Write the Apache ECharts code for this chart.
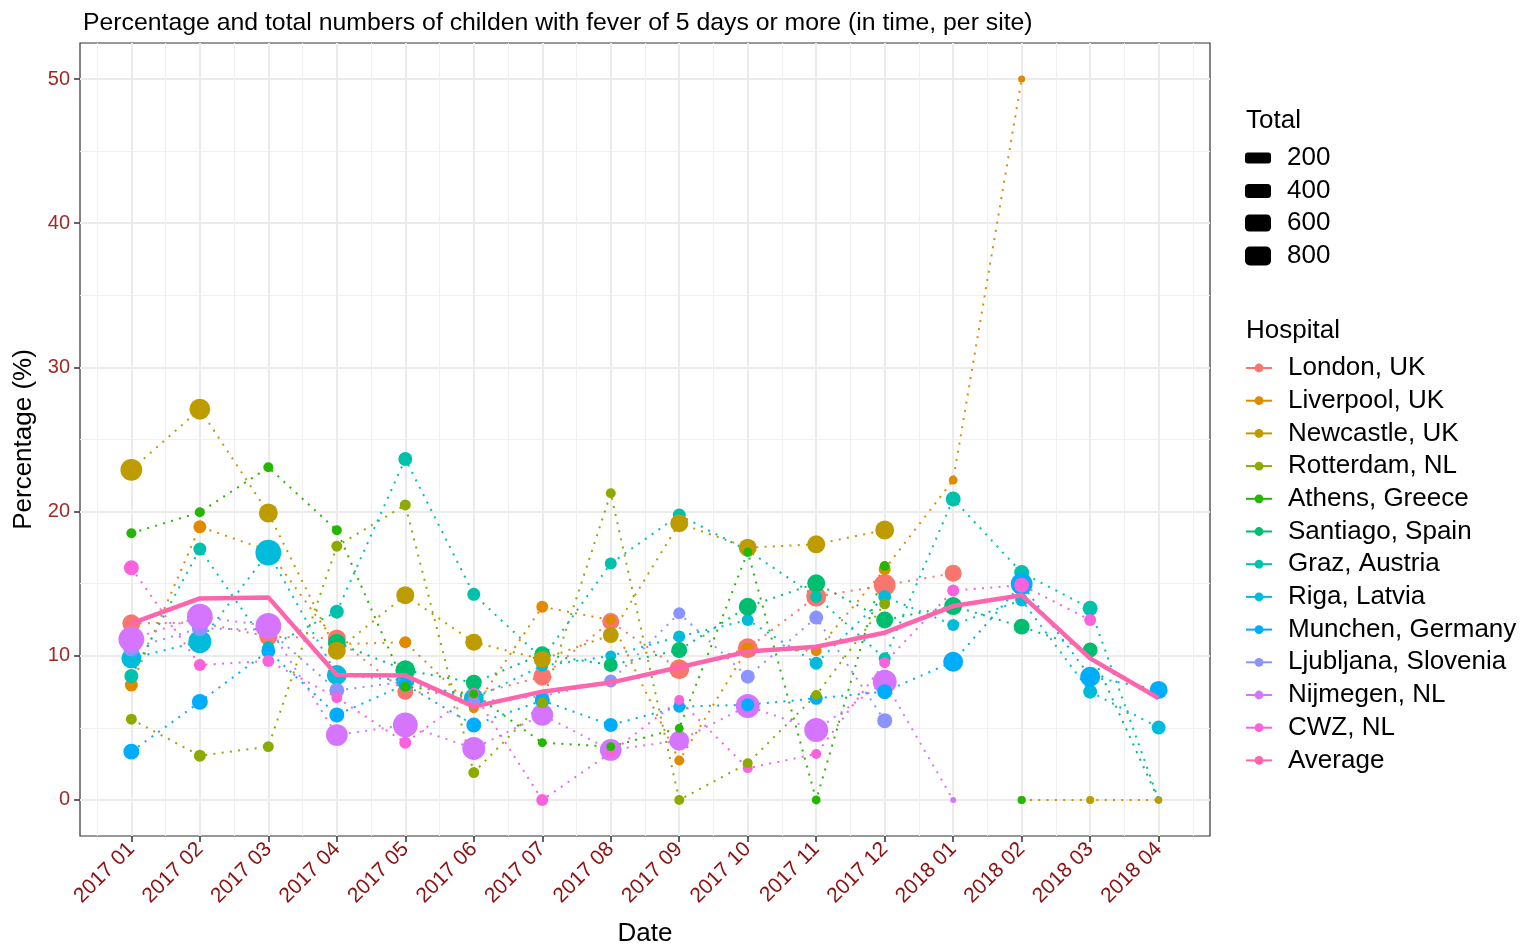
<!DOCTYPE html>
<html>
<head>
<meta charset="utf-8">
<script src="https://cdn.jsdelivr.net/npm/echarts@6/dist/echarts.min.js"></script>
<style>
html,body{margin:0;padding:0;background:#fff;}
#chart{width:1526px;height:948px;}
</style>
</head>
<body>
<div id="chart"></div>
<script>
const dates = ['2017 01','2017 02','2017 03','2017 04','2017 05','2017 06','2017 07','2017 08','2017 09','2017 10','2017 11','2017 12','2018 01','2018 02','2018 03','2018 04'];
const yTicks = [0, 10, 20, 30, 40, 50];
const sizeBreaks = ['200', '400', '600', '800'];

const hospitals = ['London, UK','Liverpool, UK','Newcastle, UK','Rotterdam, NL','Athens, Greece','Santiago, Spain','Graz, Austria','Riga, Latvia','Munchen, Germany','Ljubljana, Slovenia','Nijmegen, NL','CWZ, NL'];
const colors = ['#F8766D','#E18A00','#BE9C00','#8CAB00','#24B700','#00BE70','#00C1AB','#00BBDA','#00ACFC','#8B93FF','#D575FE','#F962DD'];
const avgColor = '#FF65AC';

// Percentages per hospital
const londonPct     = [12.25, 12.3, 11.33, 11.2, 7.5, 7.3, 8.55, 12.37, 9.06, 10.52, 14.1, 14.9, 15.72, null, null, null];
const liverpoolPct  = [7.97, 18.95, 17.3, 10.8, 10.94, 6.36, 13.4, 12.48, 2.73, 10.5, 10.35, 16.0, 22.19, 50, null, null];
const newcastlePct  = [22.9, 27.1, 19.9, 10.35, 14.2, 10.94, 9.75, 11.44, 19.19, 17.5, 17.73, 18.72, null, 0, 0, 0];
const rotterdamPct  = [5.6, 3.07, 3.7, 17.6, 20.46, 1.9, 6.75, 21.27, 0, 2.54, 7.28, 13.6, null, null, null, null];
const athensPct     = [18.5, 19.95, 23.07, 18.7, 7.86, 7.35, 3.97, 3.7, 4.97, 17.2, 0, 16.22, null, 0, null, null];
const santiagoPct   = [null, null, null, 10.9, 9.0, 8.14, 10.1, 9.36, 10.4, 13.4, 15.03, 12.48, 13.45, 12.02, 10.4, 0];
const grazPct       = [8.6, 17.4, 10.6, 13.06, 23.65, 14.26, 9.8, 16.4, 19.76, 17.3, 14.1, 9.82, 20.87, 15.77, 13.29, 0];
const rigaPct       = [9.82, 10.98, 17.15, 8.67, 8.3, 7.04, 9.3, 9.99, 11.33, 12.48, 9.48, 14.1, 12.14, 13.87, 7.51, 5.02];
const munchenPct    = [3.35, 6.8, 10.33, 5.9, 8.0, 5.2, 6.9, 5.2, 6.47, 6.6, 7.05, 7.51, 9.59, 14.98, 8.55, 7.63];
const ljubljanaPct  = [10.5, 11.9, 11.8, 7.6, 8.2, 6.8, 7.2, 8.25, 12.95, 8.55, 12.65, 5.5, null, null, null, null];
const nijmegenPct   = [11.14, 12.71, 12.07, 4.5, 5.2, 3.57, 5.9, 3.47, 4.11, 6.52, 4.85, 8.2, 0, null, null, null];
const cwzPct        = [16.1, 9.36, 9.64, 7.1, 3.97, 7.4, 0, 3.28, 6.93, 2.2, 3.19, 9.52, 14.52, 14.9, 12.48, null];
const averagePct    = [12.25, 13.98, 14.05, 8.67, 8.63, 6.47, 7.51, 8.14, 9.2, 10.29, 10.63, 11.6, 13.45, 14.2, 9.82, 7.05];

// Totals per hospital (point size)
const londonN     = [370, 370, 370, 370, 270, 230, 370, 320, 480, 480, 480, 600, 320, null, null, null];
const liverpoolN  = [155, 155, 124, 124, 124, 72, 124, 72, 72, 124, 95, 124, 50, 25, null, null];
const newcastleN  = [600, 540, 420, 370, 370, 320, 320, 270, 370, 370, 370, 420, null, 36, 36, 25];
const rotterdamN  = [95, 124, 95, 95, 95, 95, 95, 72, 72, 72, 72, 95, null, null, null, null];
const athensN     = [72, 72, 72, 72, 72, 50, 50, 50, 50, 50, 50, 72, null, 36, null, null];
const santiagoN   = [null, null, null, 370, 480, 270, 270, 190, 270, 370, 370, 320, 370, 270, 230, 25];
const grazN       = [190, 155, 124, 190, 190, 155, 155, 124, 155, 155, 124, 124, 230, 230, 230, 25];
const rigaN       = [480, 680, 900, 480, 370, 480, 124, 95, 124, 124, 155, 155, 124, 155, 190, 190];
const munchenN    = [270, 270, 190, 230, 190, 230, 230, 190, 124, 155, 155, 230, 480, 600, 480, 370];
const ljubljanaN  = [270, 270, 270, 230, 190, 155, 155, 155, 124, 190, 190, 230, null, null, null, null];
const nijmegenN   = [900, 900, 900, 600, 820, 680, 600, 600, 480, 750, 750, 750, 15, null, null, null];
const cwzN        = [230, 124, 124, 95, 124, 95, 124, 72, 72, 72, 72, 95, 124, 230, 124, null];

const pctList = [londonPct, liverpoolPct, newcastlePct, rotterdamPct, athensPct, santiagoPct, grazPct, rigaPct, munchenPct, ljubljanaPct, nijmegenPct, cwzPct];
const nList = [londonN, liverpoolN, newcastleN, rotterdamN, athensN, santiagoN, grazN, rigaN, munchenN, ljubljanaN, nijmegenN, cwzN];

// drawing order of points (bottom -> top)
const pointOrder = [0, 1, 7, 9, 10, 5, 6, 8, 11, 2, 3, 4];

const FONT = '"Liberation Sans", Arial, Helvetica, sans-serif';
const sizeOf = t => 4.3 * (1 + 5 * Math.sqrt(Math.max(t - 10, 0) / 890));

const xMajor = dates.map((d, i) => i);
const xMinor = [];
for (let i = -1; i < dates.length; i++) xMinor.push(i + 0.5);
const yMinor = [5, 15, 25, 35, 45];

const series = [];
hospitals.forEach((h, i) => {
  series.push({
    type: 'line', name: h, z: 2,
    symbol: 'circle', showSymbol: false,
    color: colors[i],
    lineStyle: { color: colors[i], width: 2, type: [2, 6.3] },
    data: pctList[i].map((v, j) => v == null ? [j, '-'] : [j, v]),
    silent: true, animation: false
  });
});
pointOrder.forEach(i => {
  const pts = [];
  pctList[i].forEach((v, j) => { if (v != null) pts.push([j, v, nList[i][j]]); });
  series.push({
    type: 'scatter', name: hospitals[i], z: 3,
    symbol: 'circle',
    color: colors[i],
    itemStyle: { color: colors[i], opacity: 1 },
    symbolSize: v => sizeOf(v[2]),
    data: pts, silent: true, animation: false
  });
});
series.push({
  type: 'line', name: 'Average', z: 4,
  symbol: 'circle', showSymbol: false,
  color: avgColor,
  lineStyle: { color: avgColor, width: 4.5 },
  data: averagePct.map((v, j) => [j, v]),
  silent: true, animation: false
});
sizeBreaks.forEach(s => {
  series.push({ type: 'scatter', name: s, color: '#000', itemStyle: { color: '#000', opacity: 1 }, data: [], symbol: 'roundRect' });
});

const sizeKeyH = [11, 14, 17, 19];
const sizeKeyCenter = [158, 191, 223, 256];
const legends = [{
  orient: 'vertical', left: 1245, top: 355, padding: 0,
  itemWidth: 26, itemHeight: 11, itemGap: 6.7,
  data: hospitals.concat(['Average']),
  lineStyle: { type: 'solid', width: 2 },
  textStyle: { fontSize: 26, lineHeight: 26, color: '#000', fontFamily: FONT, padding: [0, 0, 0, 11] },
  selectedMode: false
}];
sizeBreaks.forEach((s, k) => {
  legends.push({
    orient: 'vertical', left: 1245, top: sizeKeyCenter[k] - 13, padding: 0,
    itemWidth: 26, itemHeight: sizeKeyH[k], icon: 'roundRect',
    itemStyle: { color: '#000', opacity: 1 },
    data: [s], selectedMode: false,
    textStyle: { fontSize: 26, lineHeight: 26, color: '#000', fontFamily: FONT, padding: [0, 0, 0, 11] }
  });
});

const axisTitle = { fontSize: 26, color: '#000', fontFamily: FONT };

const option = {
  animation: false,
  backgroundColor: '#fff',
  title: [
    { text: 'Percentage and total numbers of childen with fever of 5 days or more (in time, per site)', left: 78, top: 6, textStyle: { fontSize: 24.8, fontWeight: 'normal', color: '#000', fontFamily: FONT } },
    { text: 'Total', left: 1241, top: 103, textStyle: { fontSize: 26, fontWeight: 'normal', color: '#000', fontFamily: FONT } },
    { text: 'Hospital', left: 1241, top: 313, textStyle: { fontSize: 26, fontWeight: 'normal', color: '#000', fontFamily: FONT } }
  ],
  grid: { left: 80, right: 316, top: 43, bottom: 112, show: true, borderColor: '#333', borderWidth: 1.2, backgroundColor: '#fff', containLabel: false, outerBoundsMode: 'none' },
  legend: legends,
  xAxis: [
    {
      type: 'value', min: -0.75, max: 15.75,
      axisLine: { show: false, onZero: false },
      axisTick: { show: true, customValues: xMajor, length: 6, lineStyle: { color: '#333', width: 1.5 } },
      axisLabel: { customValues: xMajor, formatter: v => dates[Math.round(v)], rotate: 45, margin: 10, fontSize: 21, color: '#8B1010', fontFamily: FONT, padding: [14, 0, 0, 0] },
      splitLine: { show: true, lineStyle: { color: '#EBEBEB', width: 2 } },
      name: 'Date', nameLocation: 'middle', nameGap: 85, nameTextStyle: axisTitle
    },
    {
      type: 'value', min: -0.75, max: 15.75, position: 'bottom',
      axisLine: { show: false, onZero: false },
      axisTick: { show: false, customValues: xMinor },
      axisLabel: { show: false },
      splitLine: { show: true, lineStyle: { color: '#EFEFEF', width: 1 } }
    }
  ],
  yAxis: [
    {
      type: 'value', min: -2.5, max: 52.5,
      axisLine: { show: false, onZero: false },
      axisTick: { show: true, customValues: yTicks, length: 6, lineStyle: { color: '#333', width: 1.5 } },
      axisLabel: { customValues: yTicks, margin: 10, fontSize: 20, color: '#A32A22', fontFamily: FONT },
      splitLine: { show: true, lineStyle: { color: '#EBEBEB', width: 2 } },
      name: 'Percentage (%)', nameLocation: 'middle', nameGap: 31, nameTextStyle: axisTitle
    },
    {
      type: 'value', min: -2.5, max: 52.5, position: 'left',
      axisLine: { show: false, onZero: false },
      axisTick: { show: false, customValues: yMinor },
      axisLabel: { show: false },
      splitLine: { show: true, lineStyle: { color: '#EFEFEF', width: 1 } }
    }
  ],
  series: series
};

const chart = echarts.init(document.getElementById('chart'), null, { renderer: 'canvas' });
chart.setOption(option);
</script>
</body>
</html>
